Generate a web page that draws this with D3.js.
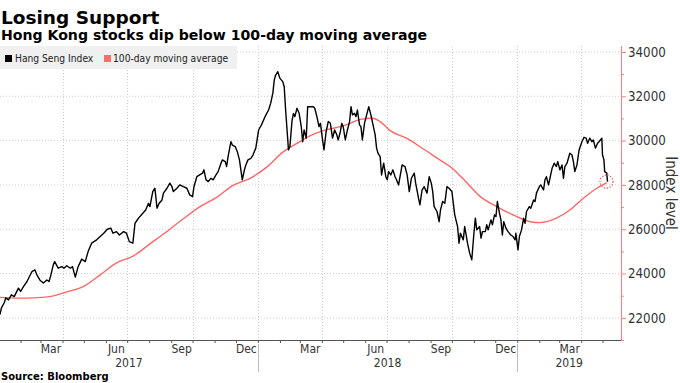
<!DOCTYPE html>
<html>
<head>
<meta charset="utf-8">
<script src="https://cdn.jsdelivr.net/npm/d3@7"></script>
<style>
  html, body { margin: 0; padding: 0; background: #fff; }
  svg { display: block; }
</style>
</head>
<body>
<svg id="chart" width="680" height="383"></svg>
<script>
// ---------------- DATA ----------------
const titleText = "Losing Support";
const subtitleText = "Hong Kong stocks dip below 100-day moving average";
const sourceText = "Source: Bloomberg";
const seriesNames = ["Hang Seng Index", "100-day moving average"];
const yAxisTitle = "Index level";
const yTicks = [22000, 24000, 26000, 28000, 30000, 32000, 34000];
const yMinorTicks = [21000, 23000, 25000, 27000, 29000, 31000, 33000];
const yearLabels = ["2017", "2018", "2019"];
const monthLabelDates = ["2017-03-15","2017-06-15","2017-09-15","2017-12-15","2018-03-15","2018-06-15","2018-09-15","2018-12-15","2019-03-15"];
const xDomain = ["2017-01-03", "2019-05-27"];
const yDomain = [21000, 34270];

const hsiDates = [
"2017-01-03","2017-01-05","2017-01-09","2017-01-11","2017-01-15","2017-01-19","2017-01-23","2017-01-29","2017-02-01","2017-02-05",
"2017-02-10","2017-02-17","2017-02-21","2017-02-24","2017-02-28","2017-03-05","2017-03-10","2017-03-13","2017-03-15","2017-03-19",
"2017-03-21","2017-03-26","2017-03-31","2017-04-03","2017-04-07","2017-04-12","2017-04-15","2017-04-19","2017-04-23","2017-04-28",
"2017-05-03","2017-05-07","2017-05-12","2017-05-19","2017-05-24","2017-05-29","2017-06-03","2017-06-08","2017-06-11","2017-06-16",
"2017-06-20","2017-06-26","2017-06-30","2017-07-04","2017-07-09","2017-07-12","2017-07-17","2017-07-23","2017-07-27","2017-07-31",
"2017-08-02","2017-08-06","2017-08-09","2017-08-12","2017-08-15","2017-08-19","2017-08-21","2017-08-26","2017-08-30","2017-09-02",
"2017-09-04","2017-09-09","2017-09-13","2017-09-18","2017-09-23","2017-09-27","2017-10-01","2017-10-03","2017-10-07","2017-10-11",
"2017-10-15","2017-10-17","2017-10-20","2017-10-23","2017-10-27","2017-10-30","2017-11-03","2017-11-06","2017-11-10","2017-11-12",
"2017-11-16","2017-11-18","2017-11-20","2017-11-24","2017-11-26","2017-11-30","2017-12-03","2017-12-06","2017-12-08","2017-12-10",
"2017-12-13","2017-12-15","2017-12-18","2017-12-22","2017-12-25","2017-12-29","2018-01-02","2018-01-06","2018-01-11","2018-01-16",
"2018-01-19","2018-01-22","2018-01-24","2018-01-26","2018-01-29","2018-02-01","2018-02-05","2018-02-07","2018-02-09","2018-02-11",
"2018-02-13","2018-02-15","2018-02-18","2018-02-20","2018-02-22","2018-02-25","2018-02-28","2018-03-03","2018-03-05","2018-03-07",
"2018-03-10","2018-03-12","2018-03-15","2018-03-20","2018-03-22","2018-03-25","2018-03-28","2018-03-30","2018-04-02","2018-04-04",
"2018-04-07","2018-04-10","2018-04-13","2018-04-16","2018-04-19","2018-04-22","2018-04-24","2018-04-27","2018-04-29","2018-05-01",
"2018-05-04","2018-05-07","2018-05-10","2018-05-12","2018-05-14","2018-05-17","2018-05-19","2018-05-21","2018-05-24","2018-05-26",
"2018-05-28","2018-05-31","2018-06-03","2018-06-06","2018-06-09","2018-06-12","2018-06-15","2018-06-17","2018-06-19","2018-06-22",
"2018-06-24","2018-06-27","2018-06-30","2018-07-02","2018-07-04","2018-07-07","2018-07-10","2018-07-13","2018-07-15","2018-07-18",
"2018-07-20","2018-07-23","2018-07-27","2018-07-30","2018-08-02","2018-08-05","2018-08-09","2018-08-11","2018-08-15","2018-08-17",
"2018-08-20","2018-08-23","2018-08-27","2018-08-30","2018-09-02","2018-09-04","2018-09-06","2018-09-10","2018-09-13","2018-09-15",
"2018-09-18","2018-09-21","2018-09-24","2018-09-27","2018-10-01","2018-10-03","2018-10-05","2018-10-09","2018-10-11","2018-10-13",
"2018-10-17","2018-10-19","2018-10-23","2018-10-26","2018-10-29","2018-11-01","2018-11-03","2018-11-05","2018-11-09","2018-11-11",
"2018-11-13","2018-11-17","2018-11-19","2018-11-21","2018-11-25","2018-11-27","2018-11-30","2018-12-02","2018-12-04","2018-12-07",
"2018-12-09","2018-12-11","2018-12-13","2018-12-16","2018-12-19","2018-12-23","2018-12-26","2018-12-29","2018-12-30","2019-01-02",
"2019-01-04","2019-01-07","2019-01-10","2019-01-12","2019-01-14","2019-01-18","2019-01-20","2019-01-24","2019-01-26","2019-01-28",
"2019-02-01","2019-02-03","2019-02-07","2019-02-09","2019-02-11","2019-02-14","2019-02-16","2019-02-19","2019-02-22","2019-02-25",
"2019-02-27","2019-03-02","2019-03-05","2019-03-07","2019-03-09","2019-03-12","2019-03-16","2019-03-19","2019-03-21","2019-03-23",
"2019-03-26","2019-03-29","2019-04-02","2019-04-05","2019-04-08","2019-04-10","2019-04-13","2019-04-16","2019-04-18","2019-04-21",
"2019-04-24","2019-04-26","2019-04-30","2019-05-01","2019-05-03","2019-05-04","2019-05-07","2019-05-08"
];
const hsiValues = [
22150,22450,22680,22900,22810,23040,22960,23340,23190,23410,
23640,24090,24170,23940,23710,23570,23710,23640,23860,24390,
24540,24240,24310,24240,24350,24240,24310,23840,24310,24650,
24540,24990,25370,25520,25670,25820,26000,26050,25820,25890,
25740,25890,25820,25440,25370,26270,26500,26720,26870,27170,
27020,27700,27850,26950,27170,27320,27630,27850,28080,27920,
27700,27850,28000,27920,27850,27550,27470,27920,28370,28450,
28530,28680,28230,28150,28300,28230,28450,28600,28980,29130,
29050,28830,29280,29950,29800,29730,29500,29130,28680,28230,
28680,28900,29130,29200,29350,29660,30480,30710,31080,31380,
31690,32140,32740,32960,33110,32810,32660,32430,31380,30480,
29580,29730,30900,31230,31080,31460,31230,30630,29950,30480,
30110,31530,31530,31530,31460,31080,30630,30780,30030,29580,
30400,30860,30780,30110,30480,30260,30030,30400,30780,30630,
30030,30480,30860,31530,31160,31230,31080,31380,30710,30630,
30030,30780,31160,31530,31160,30710,30260,29660,29430,29280,
28450,28980,28370,28230,28600,28450,28680,28370,28230,28000,
28370,28900,28830,28450,27700,28300,28530,28080,27400,27100,
27770,27920,27630,28370,28080,27700,27020,26800,26340,26870,
27250,27170,27920,27850,27700,27170,26650,26120,25370,25820,
25520,26120,25370,24920,24620,25820,26500,25970,26120,25600,
25890,25890,26200,25970,26420,26200,26650,26570,27250,26720,
26420,25740,26340,26050,25890,25740,25670,25520,25820,25070,
25670,25970,26500,26270,26800,27020,26950,27320,27250,27630,
27920,28000,27770,28230,28370,28000,28300,28750,28980,28830,
29050,28680,28900,28300,28830,28980,29430,29350,29050,28600,
28900,29580,29950,30150,30110,29880,30110,29950,30030,29660,
29880,29950,30110,29350,29130,28600,28530,28150
];

const maDates = [
"2017-01-03","2017-01-27","2017-02-19","2017-03-14","2017-04-07","2017-04-30","2017-05-24","2017-06-16","2017-07-10","2017-08-02",
"2017-08-26","2017-09-18","2017-10-11","2017-11-04","2017-11-27","2017-12-21","2018-01-13","2018-02-06","2018-03-01","2018-03-15",
"2018-04-03","2018-04-27","2018-05-11","2018-05-25","2018-06-12","2018-06-22","2018-07-06","2018-07-29","2018-08-22","2018-09-14",
"2018-09-28","2018-10-17","2018-11-10","2018-12-03","2018-12-26","2019-01-19","2019-02-02","2019-02-25","2019-03-16","2019-04-04",
"2019-04-23","2019-05-07"
];
const maValues = [
22925,22890,22900,22960,23170,23410,23940,24480,24800,25340,
25900,26470,27010,27440,27980,28300,28790,29500,29950,30210,
30450,30630,30780,30960,31010,30860,30450,30110,29620,29130,
28840,28270,27470,27020,26650,26340,26300,26500,26870,27400,
27850,28100
];

// ---------------- CHART ----------------
const parse = d3.timeParse("%Y-%m-%d");
const hsi = hsiDates.map((d, i) => ({ date: parse(d), value: hsiValues[i] }));
const ma = maDates.map((d, i) => ({ date: parse(d), value: maValues[i] }));

const svg = d3.select("#chart");
const plotLeft = 0, plotRight = 621, plotTop = 46, plotBottom = 340;

const x = d3.scaleTime().domain(xDomain.map(parse)).range([plotLeft, plotRight]);
const y = d3.scaleLinear().domain(yDomain).range([plotBottom, plotTop]);

const condensed = "'DejaVu Sans Condensed', 'DejaVu Sans', sans-serif";
const bold = "'DejaVu Sans', Verdana, sans-serif";

// Title & subtitle
svg.append("text").attr("x", 1).attr("y", 24)
  .attr("font-family", bold).attr("font-weight", "bold").attr("font-size", 18.5)
  .attr("fill", "#000").text(titleText);
svg.append("text").attr("x", 1).attr("y", 40)
  .attr("font-family", bold).attr("font-weight", "bold").attr("font-size", 14.1)
  .attr("fill", "#000").text(subtitleText);

// gridlines
const grid = svg.append("g");
grid.selectAll("line.h").data(yTicks).join("line")
  .attr("x1", plotLeft).attr("x2", plotRight)
  .attr("y1", d => y(d)).attr("y2", d => y(d))
  .attr("stroke", "#cfcfcf").attr("stroke-width", 1).attr("stroke-dasharray", "1,2");
const quarterStarts = d3.timeMonth.every(3).range(d3.timeYear.floor(x.domain()[0]), x.domain()[1])
  .filter(d => x(d) > plotLeft + 1);
grid.selectAll("line.v").data(quarterStarts).join("line")
  .attr("x1", d => Math.round(x(d)) + 0.5).attr("x2", d => Math.round(x(d)) + 0.5)
  .attr("y1", plotTop).attr("y2", plotBottom)
  .attr("stroke", "#cfcfcf").attr("stroke-width", 1).attr("stroke-dasharray", "1,2");

// Legend
const leg = svg.append("g");
leg.append("rect").attr("x", 0).attr("y", 46).attr("width", 237).attr("height", 23).attr("fill", "#f0f0f0");
leg.append("rect").attr("x", 5).attr("y", 55).attr("width", 7).attr("height", 7).attr("fill", "#000");
leg.append("text").attr("x", 15).attr("y", 62).attr("font-family", condensed).attr("font-size", 10.2)
  .attr("fill", "#222").text(seriesNames[0]);
leg.append("rect").attr("x", 104).attr("y", 55).attr("width", 7).attr("height", 7).attr("fill", "#ff6b6b");
leg.append("text").attr("x", 113).attr("y", 62).attr("font-family", condensed).attr("font-size", 10.2)
  .attr("fill", "#222").text(seriesNames[1]);

// Lines
const lineGen = d3.line().x(d => x(d.date)).y(d => y(d.value));
svg.append("path").datum(ma)
  .attr("d", lineGen.curve(d3.curveMonotoneX))
  .attr("fill", "none").attr("stroke", "#ff6666").attr("stroke-width", 1.4);
svg.append("path").datum(hsi)
  .attr("d", d3.line().x(d => x(d.date)).y(d => y(d.value)))
  .attr("fill", "none").attr("stroke", "#000").attr("stroke-width", 1.4).attr("stroke-linejoin", "round");

// highlight circle around last point
const last = hsi[hsi.length - 1];
svg.append("circle").attr("cx", x(last.date) - 1).attr("cy", y(last.value))
  .attr("r", 6.5).attr("fill", "none").attr("stroke", "#ff4d4d").attr("stroke-width", 1.2)
  .attr("stroke-dasharray", "1.2,1.6");

// Right axis
const yAxis = svg.append("g").attr("transform", `translate(${plotRight},0)`)
  .call(d3.axisRight(y).tickValues(yTicks).tickSize(5).tickPadding(2).tickFormat(d3.format("d")));
yAxis.select(".domain").attr("stroke", "#ff7f7f").attr("d", `M0.5,${plotTop}V${plotBottom}`);
yAxis.selectAll(".tick line").attr("stroke", "#ff7f7f");
yAxis.selectAll(".tick text").attr("font-family", condensed).attr("font-size", 13.2).attr("fill", "#333");
const yMinor = svg.append("g").attr("transform", `translate(${plotRight},0)`)
  .call(d3.axisRight(y).tickValues(yMinorTicks.filter(v => y(v) >= plotTop && y(v) <= plotBottom)).tickSize(3).tickFormat(""));
yMinor.select(".domain").remove();
yMinor.selectAll(".tick line").attr("stroke", "#ff7f7f");

svg.append("text")
  .attr("transform", `translate(666,193) rotate(90)`)
  .attr("text-anchor", "middle").attr("font-family", condensed).attr("font-size", 15)
  .attr("fill", "#333").text(yAxisTitle);

// Bottom axis
const xAxisLine = svg.append("g").attr("transform", `translate(0,${plotBottom})`)
  .call(d3.axisBottom(x).ticks(d3.timeMonth.every(1)).tickSize(3).tickFormat(""));
xAxisLine.select(".domain").attr("stroke", "#555").attr("d", `M${plotLeft},0.5H${plotRight}`);
xAxisLine.selectAll(".tick line").attr("stroke", "#555");

const monthAxis = svg.append("g").attr("transform", `translate(0,${plotBottom})`)
  .call(d3.axisBottom(x).tickValues(monthLabelDates.map(parse)).tickSize(0).tickPadding(4)
    .tickFormat(d3.timeFormat("%b")));
monthAxis.select(".domain").remove();
monthAxis.selectAll(".tick text").attr("font-family", condensed).attr("font-size", 12).attr("fill", "#333");

// Years
const yearStarts = yearLabels.map(yl => d3.max([parse(yl + "-01-01"), x.domain()[0]]));
const yearEnds = yearLabels.map(yl => d3.min([parse((+yl + 1) + "-01-01"), x.domain()[1]]));
svg.append("g").selectAll("text").data(yearLabels).join("text")
  .attr("x", (d, i) => (x(yearStarts[i]) + x(yearEnds[i])) / 2)
  .attr("y", 367).attr("text-anchor", "middle")
  .attr("font-family", condensed).attr("font-size", 12).attr("fill", "#333")
  .text(d => d);
svg.append("g").selectAll("line").data(yearLabels.slice(1)).join("line")
  .attr("x1", d => Math.round(x(parse(d + "-01-01"))) + 0.5)
  .attr("x2", d => Math.round(x(parse(d + "-01-01"))) + 0.5)
  .attr("y1", 344).attr("y2", 372).attr("stroke", "#bbb").attr("stroke-width", 1);

// Source
svg.append("text").attr("x", 1).attr("y", 380)
  .attr("font-family", bold).attr("font-weight", "bold").attr("font-size", 10)
  .attr("fill", "#000").text(sourceText);
</script>
</body>
</html>
